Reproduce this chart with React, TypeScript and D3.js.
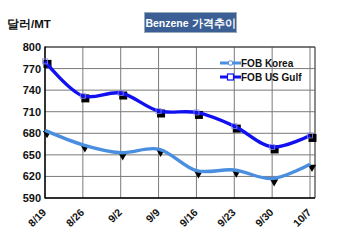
import React from "react";
import * as d3 from "d3";

const categories = ["8/19", "8/26", "9/2", "9/9", "9/16", "9/23", "9/30", "10/7"];
const korea = [684, 664, 653, 658, 628, 629, 617, 637];
const usGulf = [780, 732, 736, 711, 709, 690, 661, 677];
const yTicks = [590, 620, 650, 680, 710, 740, 770, 800];

const W = 350, H = 246;
const L = 45, R = 315, T = 47, B = 198;

export default function App() {
  const x = d3.scalePoint<string>().domain(categories).range([L, 310]);
  const y = d3.scaleLinear().domain([590, 800]).range([B, T]);
  const line = d3
    .line<number>()
    .x((_, i) => x(categories[i]) as number)
    .y((d) => y(d))
    .curve(d3.curveCatmullRom.alpha(0.5));
  const font = "'Liberation Sans', Arial, sans-serif";
  const tri = d3.symbol().type(d3.symbolTriangle).size(30)();
  return (
    <svg width={W} height={H} style={{ position: "absolute", left: 0, top: 0, background: "#fff" }}>
      <rect x={0} y={0} width={W} height={H} fill="#fff" />
      {/* grid */}
      {yTicks.map((t) => (
        <line key={"gy" + t} x1={L} x2={R} y1={y(t)} y2={y(t)} stroke="#7a7a7a" strokeWidth={1} />
      ))}
      {categories.slice(1).map((c) => (
        <line key={"gx" + c} x1={x(c)} x2={x(c)} y1={T} y2={B} stroke="#7a7a7a" strokeWidth={1} />
      ))}
      <line x1={R} x2={R} y1={T} y2={B} stroke="#666" strokeWidth={1.5} />
      <line x1={L} x2={R} y1={T} y2={T} stroke="#333" strokeWidth={1.2} />
      {/* axes */}
      <line x1={L} x2={L} y1={T - 0.5} y2={B + 0.5} stroke="#000" strokeWidth={1.6} />
      <line x1={L} x2={R} y1={B} y2={B} stroke="#000" strokeWidth={1.6} />
      {yTicks.map((t) => (
        <text key={"yl" + t} x={41} y={y(t) + 4} textAnchor="end" fontFamily={font} fontWeight="bold" fontSize={11} fill="#111">
          {t}
        </text>
      ))}
      {categories.map((c) => (
        <text
          key={"xl" + c}
          transform={`translate(${(x(c) as number) + 2},${B + 15}) rotate(-45)`}
          textAnchor="end"
          fontFamily={font}
          fontWeight="bold"
          fontSize={10.5}
          fill="#111"
        >
          {c}
        </text>
      ))}
      {/* shadow markers */}
      {usGulf.map((v, i) => (
        <rect key={"us" + i} x={(x(categories[i]) as number) - 1.5} y={y(v) - 1.5} width={8} height={8} fill="#000" />
      ))}
      {korea.map((v, i) => (
        <path key={"kr" + i} d={tri as string} transform={`translate(${(x(categories[i]) as number) + 2},${y(v) + 3}) rotate(180)`} fill="#000" />
      ))}
      {/* lines */}
      <path d={line(usGulf) as string} fill="none" stroke="#1010f0" strokeWidth={3.4} />
      <path d={line(korea) as string} fill="none" stroke="#4a8ee0" strokeWidth={3.4} />
      {usGulf.map((v, i) => (
        <rect key={"usm" + i} x={(x(categories[i]) as number) - 2.5} y={y(v) - 2.5} width={5} height={5} fill="none" stroke="#8a8af0" strokeWidth={1} opacity={0.8} />
      ))}
      {/* legend */}
      <g fontFamily={font} fontWeight="bold" fontSize={10} fill="#111">
        <line x1={220} x2={241} y1={63} y2={63} stroke="#4a8ee0" strokeWidth={3} />
        <circle cx={230.5} cy={63} r={2.3} fill="#fff" stroke="#4a8ee0" strokeWidth={1} />
        <text x={241} y={67}>FOB Korea</text>
        <line x1={220} x2={241} y1={77} y2={77} stroke="#1010f0" strokeWidth={3} />
        <rect x={227.5} y={74} width={6} height={6} fill="#fff" stroke="#1010f0" strokeWidth={1.2} />
        <text x={241} y={81}>FOB US Gulf</text>
      </g>
      {/* title */}
      <rect x={144.5} y={12.5} width={92} height={20} fill="#3b5e95" stroke="#9ab" strokeWidth={1} />
      <text x={190.5} y={26.5} textAnchor="middle" fontFamily={font} fontWeight="bold" fontSize={10.5} fill="#fff">
        Benzene 가격추이
      </text>
      <text x={7} y={28} fontFamily={font} fontWeight="bold" fontSize={11.5} fill="#111">
        달러/MT
      </text>
    </svg>
  );
}
